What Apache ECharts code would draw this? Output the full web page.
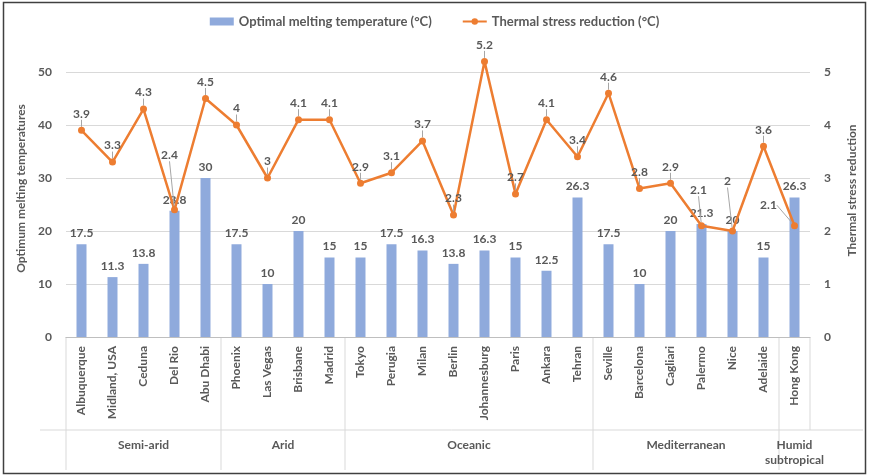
<!DOCTYPE html>
<html>
<head>
<meta charset="utf-8">
<script src="https://cdn.jsdelivr.net/npm/echarts@6/dist/echarts.min.js"></script>
<style>html,body{margin:0;padding:0;background:#fff}#c{width:869px;height:476px}</style>
</head>
<body>
<div id="c"></div>
<script>
const categories = ['Albuquerque','Midland, USA','Ceduna','Del Rio','Abu Dhabi','Phoenix','Las Vegas','Brisbane','Madrid','Tokyo','Perugia','Milan','Berlin','Johannesburg','Paris','Ankara','Tehran','Seville','Barcelona','Cagliari','Palermo','Nice','Adelaide','Hong Kong'];
const groups = ['Semi-arid','Arid','Oceanic','Mediterranean','Humid\nsubtropical'];
const groupSizes = [5,4,8,6,1];
const meltingTemp = [17.5,11.3,13.8,23.8,30,17.5,10,20,15,15,17.5,16.3,13.8,16.3,15,12.5,26.3,17.5,10,20,21.3,20,15,26.3];
const stressReduction = [3.9,3.3,4.3,2.4,4.5,4,3,4.1,4.1,2.9,3.1,3.7,2.3,5.2,2.7,4.1,3.4,4.6,2.8,2.9,2.1,2,3.6,2.1];
const leftTicks = [0,10,20,30,40,50];
const rightTicks = [0,1,2,3,4,5];

const FONT = 'Lato';
const TXT = '#595959';
const FW = 'bold';
const labelMoves = {3:{dx:-5,dy:-38},20:{dx:-3,dy:-19},21:{dx:-5,dy:-33},23:{dx:-26,dy:-4}};

const chart = echarts.init(document.getElementById('c'));
const option = {
  animation:false,
  textStyle:{fontFamily:FONT,color:TXT,fontWeight:FW},
  legend:{
    top:10,left:'center',itemGap:30,
    textStyle:{fontFamily:FONT,fontSize:13,color:TXT,fontWeight:FW},
    data:[{name:'Optimal melting temperature (°C)',icon:'rect'},{name:'Thermal stress reduction (°C)'}],
    itemWidth:24,itemHeight:8
  },
  grid:{left:66,right:59,top:72,bottom:139,containLabel:false},
  xAxis:{
    type:'category',data:categories,
    axisLine:{lineStyle:{color:'#bfbfbf'}},
    axisTick:{show:false},
    axisLabel:{rotate:90,interval:0,margin:9,fontSize:12,color:TXT,fontFamily:FONT,fontWeight:FW}
  },
  yAxis:[
    {type:'value',min:0,max:50,interval:10,
     name:'Optimum melting temperatures',nameLocation:'middle',nameGap:38,
     nameTextStyle:{fontSize:12,color:TXT,fontFamily:FONT,fontWeight:FW,padding:[0,0,0,32]},
     axisLabel:{fontSize:12,color:TXT,margin:14,fontWeight:FW,customValues:leftTicks},
     splitLine:{lineStyle:{color:'#d9d9d9'}},axisLine:{show:false},axisTick:{show:false}},
    {type:'value',min:0,max:5,interval:1,position:'right',
     name:'Thermal stress reduction',nameLocation:'middle',nameGap:36,nameRotate:90,
     nameTextStyle:{fontSize:12,color:TXT,fontFamily:FONT,fontWeight:FW,padding:[0,0,0,28]},
     axisLabel:{fontSize:12,color:TXT,margin:14,fontWeight:FW,customValues:rightTicks},
     splitLine:{show:false},axisLine:{show:false},axisTick:{show:false}}
  ],
  series:[
    {name:'Optimal melting temperature (°C)',type:'bar',data:meltingTemp,barWidth:10,
     itemStyle:{color:'#8faadc'},
     label:{show:true,position:'top',distance:5,fontSize:12,color:TXT,fontFamily:FONT,fontWeight:FW}},
    {name:'Thermal stress reduction (°C)',type:'line',yAxisIndex:1,data:stressReduction,
     clip:false,symbol:'circle',symbolSize:7,
     lineStyle:{color:'#ed7d31',width:2.5},itemStyle:{color:'#ed7d31'},
     label:{show:true,position:'top',distance:7,fontSize:12,color:TXT,fontFamily:FONT,fontWeight:FW},
     labelLine:{show:true,lineStyle:{color:'#a6a6a6',width:1}},
     labelLayout:function(p){const m=labelMoves[p.dataIndex];return m?{dx:m.dx,dy:m.dy}:{};},
     z:5}
  ]
};
chart.setOption(option);

function drawGroups(){
  const px = i => chart.convertToPixel({xAxisIndex:0},categories[i]);
  const y0 = chart.convertToPixel({yAxisIndex:0},0);
  const step = px(1)-px(0);
  const bound = k => px(0) - step/2 + k*step;
  const g = [];
  let k = 0;
  const bounds=[0];
  groupSizes.forEach(s=>{k+=s;bounds.push(k);});
  bounds.forEach((b,j)=>{
    const last = j===bounds.length-1;
    g.push({type:'line',shape:{x1:bound(b),y1:y0,x2:bound(b),y2:y0+(last?93:133)},style:{stroke:'#d9d9d9',lineWidth:1},silent:true});
  });
  g.push({type:'line',shape:{x1:40,y1:y0+93,x2:863,y2:y0+93},style:{stroke:'#d9d9d9',lineWidth:1},silent:true});
  groups.forEach((name,j)=>{
    const cx=(bound(bounds[j])+bound(bounds[j+1]))/2;
    g.push({type:'text',x:cx,y:y0+101,style:{text:name,fill:TXT,font:'bold 12px '+FONT,textAlign:'center',textVerticalAlign:'top',lineHeight:15},silent:true});
  });
  g.push({type:'rect',shape:{x:3.5,y:2.5,width:862,height:471},style:{fill:'none',stroke:'#404040',lineWidth:1.5},silent:true});
  chart.setOption({graphic:g});
}
drawGroups();
</script>
</body>
</html>
